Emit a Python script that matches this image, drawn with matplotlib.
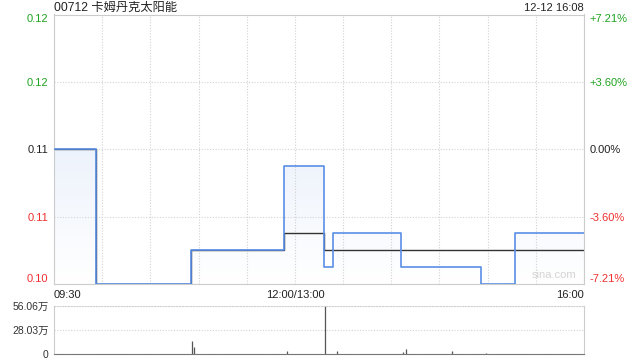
import matplotlib
matplotlib.use('Agg')
import matplotlib.pyplot as plt
import numpy as np
from matplotlib.colors import LinearSegmentedColormap

plt.rcParams['font.family'] = ['Liberation Sans', 'Noto Sans CJK SC', 'DejaVu Sans']

#----------------------------------------------------------------------------------------------
# data (minutes since 09:30, lunch break removed: 0..150 morning, 150..330 afternoon)
title = '00712 卡姆丹克太阳能'
stamp = '12-12 16:08'
prevClose = 0.111
pctRange = 0.0721

priceT = [0, 26, 85, 143, 168, 174, 216, 266, 287, 330]
priceV = [0.111, 0.103, 0.105, 0.110, 0.104, 0.106, 0.104, 0.103, 0.106]

avgT = [0, 26, 85, 143, 168, 330]
avgV = [0.111, 0.103, 0.105, 0.106, 0.105]

volT = [86, 87, 145, 169, 176, 217, 219, 248, 269]
volV = [150000, 85000, 35000, 560600, 40000, 25000, 58000, 40000, 15000]
volMax = 560600

xTickPos = [0, 150, 330]
xTickLab = ['09:30', '12:00/13:00', '16:00']
yTickLab = ['0.10', '0.11', '0.11', '0.12', '0.12']
pctTickLab = ['-7.21%', '-3.60%', '0.00%', '+3.60%', '+7.21%']
volTickLab = ['0', '28.03万', '56.06万']

#----------------------------------------------------------------------------------------------
green, red, black = '#1fa31f', '#f03030', '#222222'
tickCols = [red, red, black, green, green]
lineCol = '#5a8fe6'
borderCol = '#cccccc'
gridCol = '#d2d2d2'

ymin, ymax = prevClose*(1-pctRange), prevClose*(1+pctRange)
yTicks = [ymin, prevClose*(1-pctRange/2), prevClose, prevClose*(1+pctRange/2), ymax]

fig = plt.figure(figsize=(6.4, 3.6), dpi=100)
ax = fig.add_axes([54/640., 1-284/360., 530/640., 269.5/360.])
axv = fig.add_axes([54/640., 1-354.3/360., 530/640., 48.6/360.])

# step series as arrays
px = np.array(priceT, dtype=float)
py = np.append(priceV, priceV[-1])
ax.plot(px, py, drawstyle='steps-post', color=lineCol, lw=1.2, zorder=3)
ax.plot(avgT, np.append(avgV, avgV[-1]), drawstyle='steps-post', color='#333333', lw=1.0, zorder=2)

# gradient fill under the price line
fillPoly = ax.fill_between(px, py, ymin, step='post', color='none', lw=0)
cmap = LinearSegmentedColormap.from_list('fade', ['#ffffff', '#dbe7f9'])
grad = ax.imshow(np.linspace(0, 1, 100).reshape(-1, 1), cmap=cmap, aspect='auto',
                 extent=[0, 330, ymin, ymax], origin='lower', zorder=1)
path = fillPoly.get_paths()[0]
grad.set_clip_path(path, transform=ax.transData)

ax.set_xlim(0, 330)
ax.set_ylim(ymin, ymax)
ax.set_xticks(np.arange(0, 331, 30))
ax.set_xticklabels([''] * 12)
ax.set_yticks(yTicks)
ax.set_yticklabels(yTickLab, fontsize=8)
ax.grid(True, color=gridCol, ls=(0, (1, 1.5)), lw=0.8)
ax.tick_params(length=0, pad=4)
for s in ax.spines.values():
    s.set_color(borderCol)
for lab, c in zip(ax.get_yticklabels(), tickCols):
    lab.set_color(c)
ax.get_yticklabels()[0].set_va('bottom')
ax.get_yticklabels()[-1].set_va('top')

# x labels under main plot
for pos, lab, ha in zip(xTickPos, xTickLab, ['left', 'center', 'right']):
    ax.annotate(lab, xy=(pos, 0), xycoords=('data', 'axes fraction'), xytext=(0, -4),
                textcoords='offset points', ha=ha, va='top', fontsize=8, color=black)

# right percent axis
axr = ax.twinx()
axr.set_ylim(ymin, ymax)
axr.set_yticks(yTicks)
axr.set_yticklabels(pctTickLab, fontsize=8)
axr.tick_params(length=0, pad=4)
for s in axr.spines.values():
    s.set_visible(False)
for lab, c in zip(axr.get_yticklabels(), tickCols):
    lab.set_color(c)
axr.get_yticklabels()[0].set_va('bottom')
axr.get_yticklabels()[-1].set_va('top')

ax.text(0, 1.025, title, transform=ax.transAxes, ha='left', va='center', fontsize=8.8, color=black)
ax.text(1, 1.025, stamp, transform=ax.transAxes, ha='right', va='center', fontsize=8, color=black)
ax.text(0.985, 0.015, 'sina.com', transform=ax.transAxes, ha='right', va='bottom', fontsize=8, color='#d4d4d4')

#----------------------------------------------------------------------------------------------
# volume panel
axv.vlines(volT, 0, volV, color='#555555', lw=0.9)
axv.set_xlim(0, 330)
axv.set_ylim(0, volMax)
axv.set_xticks([])
axv.set_yticks([0, volMax/2., volMax])
axv.set_yticklabels(volTickLab, fontsize=7.5, color='#333333')
axv.tick_params(length=0, pad=4)
axv.yaxis.grid(True, color=gridCol, ls=(0, (1, 1.5)), lw=0.8)
axv.spines['left'].set_color(borderCol)
axv.spines['right'].set_color(borderCol)
axv.spines['top'].set_color(gridCol)
axv.spines['top'].set_linestyle((0, (1, 1.5)))
axv.spines['bottom'].set_color('#777777')
axv.spines['bottom'].set_linestyle((0, (1, 1)))

fig.savefig('out.png', dpi=100)
